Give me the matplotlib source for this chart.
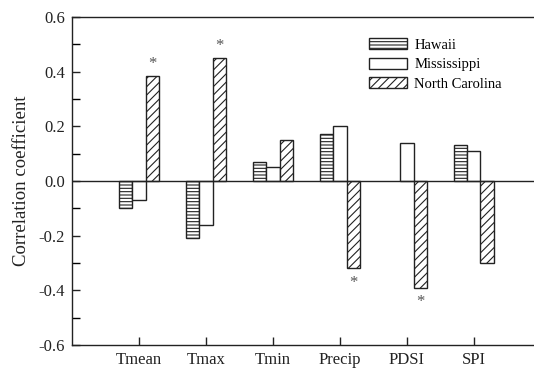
import matplotlib
matplotlib.use("Agg")
import matplotlib.pyplot as plt
import numpy as np

categories = ["Tmean", "Tmax", "Tmin", "Precip", "PDSI", "SPI"]
hawaii = [-0.10, -0.21, 0.07, 0.17, np.nan, 0.13]
mississippi = [-0.07, -0.16, 0.05, 0.20, 0.14, 0.11]
north_carolina = [0.385, 0.45, 0.15, -0.32, -0.39, -0.30]
nc_significant = [True, True, False, True, True, False]
series_names = ["Hawaii", "Mississippi", "North Carolina"]

plt.rcParams['font.family'] = ['Liberation Serif', 'DejaVu Serif']
plt.rcParams['hatch.linewidth'] = 0.8

fig = plt.figure(figsize=(5.34, 3.68), dpi=100)
ax = fig.add_axes([0.135, 0.0625, 0.865, 0.8915])

x = np.arange(1, len(categories) + 1)
w = 0.2
ec = '#222222'
ax.bar(x - w, hawaii, w, facecolor='white', edgecolor=ec, hatch='-----', linewidth=1.0, label=series_names[0])
ax.bar(x, mississippi, w, facecolor='white', edgecolor=ec, linewidth=1.0, label=series_names[1])
ax.bar(x + w, north_carolina, w, facecolor='white', edgecolor=ec, hatch='////', linewidth=1.0, label=series_names[2])

for xi, v, s in zip(x, north_carolina, nc_significant):
    if s:
        if v > 0:
            ax.text(xi + w, v + 0.015, '*', ha='center', va='bottom', fontsize=12, color='#555555')
        else:
            ax.text(xi + w, v - 0.025, '*', ha='center', va='top', fontsize=12, color='#555555')

ax.axhline(0, color='#222222', linewidth=1.0)
ax.set_xlim(0, 6.9)
ax.set_ylim(-0.6, 0.6)
ax.set_xticks(x)
ax.set_xticklabels(categories, fontsize=12)
ax.set_yticks(np.arange(-0.6, 0.61, 0.2))
ax.set_yticklabels([f"{v:.1f}" for v in np.arange(-0.6, 0.61, 0.2)], fontsize=12)
ax.set_yticks(np.arange(-0.5, 0.6, 0.2), minor=True)
ax.tick_params(axis='both', direction='in', length=6, width=1.0, colors='#222222', labelcolor='#222222')
ax.tick_params(axis='y', which='minor', direction='in', length=6, width=1.0)
ax.tick_params(axis='x', pad=5)
ax.tick_params(axis='y', pad=5)
ax.set_ylabel("Correlation coefficient", fontsize=13.5, color='#222222', labelpad=6)
ax.spines['right'].set_visible(False)
for s in ['left', 'top', 'bottom']:
    ax.spines[s].set_linewidth(1.0)
    ax.spines[s].set_color('#222222')

leg = ax.legend(loc='upper left', bbox_to_anchor=(0.615, 0.975), frameon=False, fontsize=10.5,
                handlelength=2.6, handleheight=0.8, labelspacing=0.4, handletextpad=0.5)

fig.savefig("out.png", dpi=100)
